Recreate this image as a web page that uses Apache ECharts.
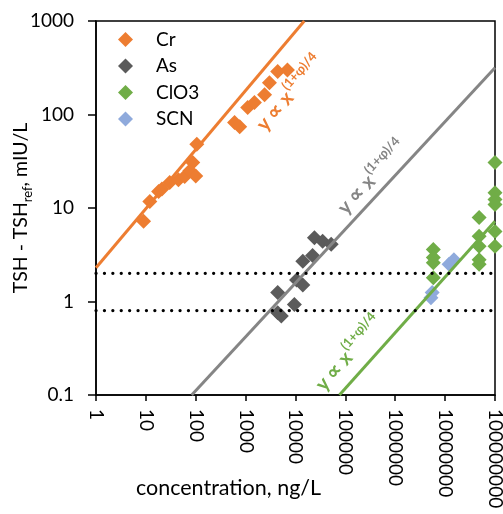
<!DOCTYPE html>
<html><head><meta charset="utf-8">
<script src="https://cdn.jsdelivr.net/npm/echarts@6/dist/echarts.min.js"></script>
<style>html,body{margin:0;padding:0;background:#fff}#c{width:503px;height:514px}</style>
</head><body><div id="c"></div>
<script>
// ---- data ----
const xTickLabels = ["1","10","100","1000","10000","100000","1000000","10000000","100000000"];
const yTickLabels = ["0.1","1","10","100","1000"];

const crConc = [9, 12, 18, 21, 30, 45, 60, 76, 87, 100, 105, 600, 760, 1100, 1500, 2400, 3000, 4400, 6900];
const crTSH  = [7.2, 11.7, 15, 16, 18.7, 20, 21.7, 25, 30.6, 22, 48, 82, 74, 119, 134, 163, 219, 288, 300];

const asConc = [24000, 35000, 52000, 22000, 14000, 10500, 14000, 4400, 9500, 4400, 5200];
const asTSH  = [4.8, 4.4, 4.1, 3.1, 2.7, 1.7, 1.5, 1.25, 0.93, 0.76, 0.7];

const clo3Conc = [1e8, 1e8, 1e8, 1e8, 4.8e7, 1e8, 4.8e7, 4.8e7, 1e8, 4.8e7, 4.8e7, 5.8e6, 5.8e6, 5.8e6, 5.8e6];
const clo3TSH  = [30.7, 14.6, 12.3, 10.9, 7.9, 5.6, 5.0, 3.9, 3.9, 2.8, 2.5, 3.6, 2.95, 2.6, 1.8];

const scnConc = [5.2e6, 5.5e6, 1.2e7, 1.5e7];
const scnTSH  = [1.1, 1.25, 2.5, 2.8];

// fitted power-law lines (end points)
const crFitConc = [1, 15000];
const crFitTSH  = [2.3, 1000];
const asFitConc = [83, 1e8];
const asFitTSH  = [0.1, 316];
const clo3FitConc = [76000, 1e8];
const clo3FitTSH  = [0.1, 7.2];

// threshold (dotted) lines
const thrConc = [1, 1e8];
const thrHigh = [2, 2];
const thrLow  = [0.8, 0.8];

const seriesNames = ["Cr", "As", "ClO3", "SCN"];
const fitLabel = "y ∝ x";
const fitExp = "(1+φ)/4";

// ---- chart ----
const zip = (a, b) => a.map((v, i) => [v, b[i]]);
const FONT = "Lato";
const chart = echarts.init(document.getElementById('c'), null, {renderer: 'canvas'});

const C_OR = '#ED7D31', C_GRM = '#5B5B5B', C_GRL = '#858585', C_GN = '#70AD47', C_BL = '#8FAADC';

function scatter(name, xs, ys, color) {
  return {name, type: 'scatter', data: zip(xs, ys), symbol: 'diamond', symbolSize: 15,
    itemStyle: {color, opacity: 1}, z: 2};
}
function fit(xs, ys, color) {
  return {type: 'line', data: zip(xs, ys), showSymbol: false, symbol: 'none',
    lineStyle: {color, width: 3}, z: 3, silent: true};
}
function thr(ys) {
  return {type: 'line', data: zip(thrConc, ys), showSymbol: false, symbol: 'none',
    lineStyle: {color: '#000', width: 3.2, type: [0.1, 8.3], cap: 'round'}, z: 4, silent: true};
}

const option = {
  animation: false,
  textStyle: {fontFamily: FONT},
  grid: {left: 96, right: 8, top: 21, bottom: 119, show: true, borderColor: '#000', borderWidth: 1.5,
         containLabel: false, outerBoundsMode: 'none'},
  legend: {
    data: seriesNames, orient: 'vertical', left: 113, top: 25,
    itemWidth: 15, itemHeight: 15, itemGap: 7.5, icon: 'diamond',
    textStyle: {fontFamily: FONT, fontSize: 19, color: '#000', padding: [0, 0, 0, 18]}
  },
  xAxis: {
    type: 'log', logBase: 10, min: 1, max: 1e8,
    name: 'concentration, ng/L', nameLocation: 'middle', nameGap: 82, nameMoveOverlap: false,
    nameTextStyle: {fontFamily: FONT, fontSize: 21.5, color: '#000', padding: [0, 134, 0, 0]},
    axisLine: {lineStyle: {color: '#000', width: 1.5}},
    axisTick: {show: true, length: 6, lineStyle: {color: '#000', width: 1.5}},
    splitLine: {show: false}, minorTick: {show: false},
    axisLabel: {rotate: -90, margin: 14, fontFamily: FONT, fontSize: 19, color: '#000', hideOverlap: false,
      formatter: v => xTickLabels[Math.round(Math.log10(v))]}
  },
  yAxis: {
    type: 'log', logBase: 10, min: 0.1, max: 1000,
    name: '{a|TSH - TSH}{s|ref}{a|, mIU/L}', nameLocation: 'middle', nameGap: 62, nameMoveOverlap: false,
    nameTextStyle: {fontFamily: FONT, color: '#000',
      rich: {a: {fontFamily: FONT, fontSize: 19.5, color: '#000', lineHeight: 26, verticalAlign: 'middle'},
             s: {fontFamily: FONT, fontSize: 13, color: '#000', lineHeight: 26, verticalAlign: 'bottom'}}},
    axisLine: {lineStyle: {color: '#000', width: 1.5}},
    axisTick: {show: true, length: 8, lineStyle: {color: '#000', width: 1.5}},
    splitLine: {show: false},
    axisLabel: {margin: 22, fontFamily: FONT, fontSize: 19, color: '#000',
      formatter: v => yTickLabels[Math.round(Math.log10(v)) + 1]}
  },
  series: [
    scatter(seriesNames[0], crConc, crTSH, C_OR),
    scatter(seriesNames[1], asConc, asTSH, C_GRM),
    scatter(seriesNames[2], clo3Conc, clo3TSH, C_GN),
    scatter(seriesNames[3], scnConc, scnTSH, C_BL),
    fit(crFitConc, crFitTSH, C_OR),
    fit(asFitConc, asFitTSH, C_GRL),
    fit(clo3FitConc, clo3FitTSH, C_GN),
    thr(thrHigh),
    thr(thrLow)
  ]
};
chart.setOption(option);

// rotated fit annotations: "y ∝ x" with a superscript exponent
const mctx = document.createElement('canvas').getContext('2d');
function tw(text, font) { mctx.font = font; return mctx.measureText(text).width; }
const MAIN_FONT = 'bold 20px ' + FONT, EXP_FONT = 'bold 13px ' + FONT;
function note(cx, cy, color, deg) {
  const w1 = tw(fitLabel, MAIN_FONT), w2 = tw(fitExp, EXP_FONT);
  const x0 = -(w1 + w2) / 2;
  return {type: 'group', x: cx, y: cy, rotation: deg * Math.PI / 180, z: 10, silent: true,
    children: [
      {type: 'text', z: 10, style: {text: fitLabel, x: x0, y: 0, font: MAIN_FONT, fill: color,
        align: 'left', verticalAlign: 'middle'}},
      {type: 'text', z: 10, style: {text: fitExp, x: x0 + w1 + 1, y: -8, font: EXP_FONT, fill: color,
        align: 'left', verticalAlign: 'middle'}}
    ]};
}
chart.setOption({graphic: [
  note(290, 94, C_OR, 49),
  note(372, 178, C_GRL, 47),
  note(349, 354, C_GN, 49)
]});
</script></body></html>
